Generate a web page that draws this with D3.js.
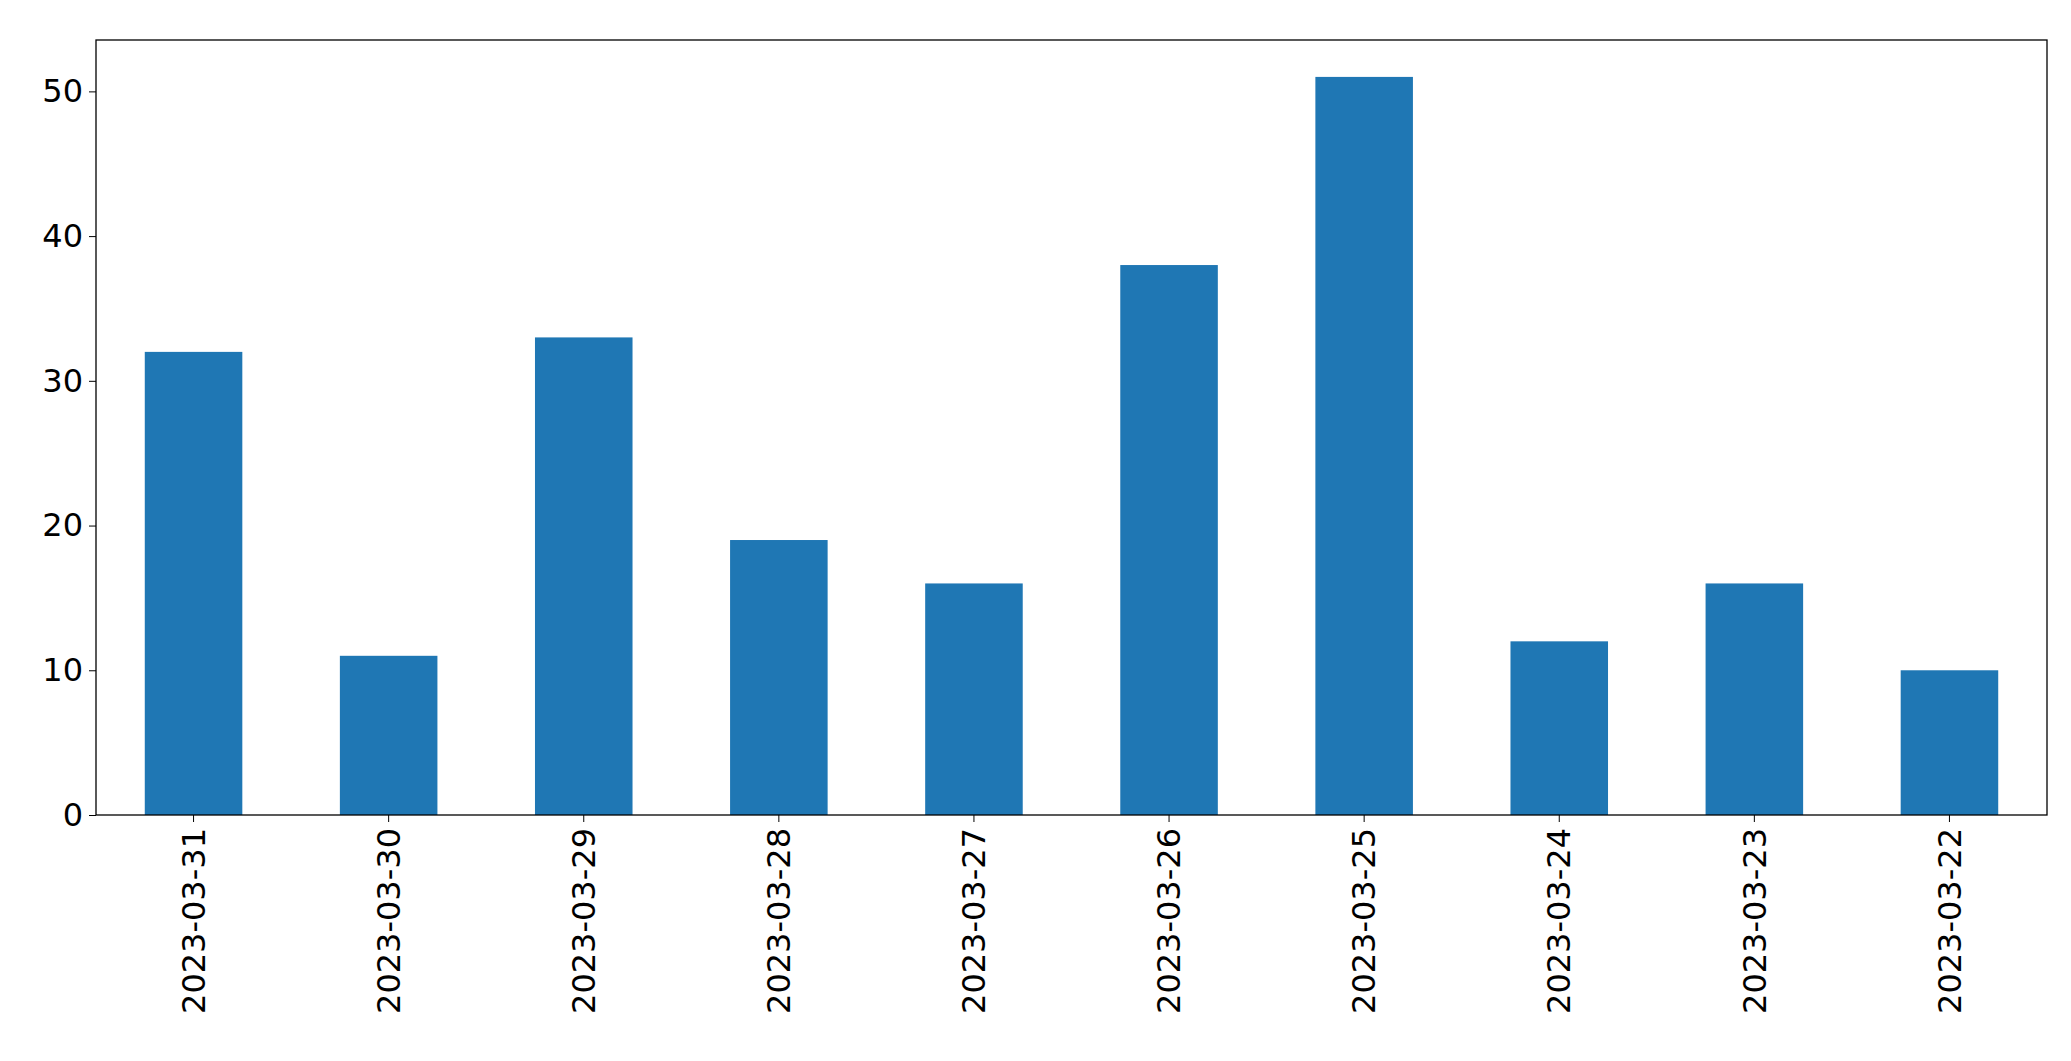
<!DOCTYPE html>
<html>
<head>
<meta charset="utf-8">
<script src="https://cdn.jsdelivr.net/npm/d3@7"></script>
<style>
  body { margin: 0; background: #fff; }
  text { font-family: "DejaVu Sans", sans-serif; }
</style>
</head>
<body>
<div id="chart"></div>
<script>
const dates = ["2023-03-31", "2023-03-30", "2023-03-29", "2023-03-28", "2023-03-27",
  "2023-03-26", "2023-03-25", "2023-03-24", "2023-03-23", "2023-03-22"];
const counts = [32, 11, 33, 19, 16, 38, 51, 12, 16, 10];
const yTicks = [0, 10, 20, 30, 40, 50];

const width = 2071, height = 1061;
const margin = { top: 40, right: 24, bottom: 246, left: 96 };

const svg = d3.select("#chart").append("svg")
  .attr("width", width)
  .attr("height", height);

const x = d3.scaleBand()
  .domain(dates)
  .range([margin.left, width - margin.right])
  .paddingInner(0.5)
  .paddingOuter(0.25);

const y = d3.scaleLinear()
  .domain([0, d3.max(counts) * 1.05])
  .range([height - margin.bottom, margin.top]);

svg.selectAll(".bar")
  .data(dates)
  .enter()
  .append("rect")
  .attr("x", (d) => x(d))
  .attr("y", (d, i) => y(counts[i]))
  .attr("width", x.bandwidth())
  .attr("height", (d, i) => y(0) - y(counts[i]))
  .style("fill", "#1f77b4");

const xAxis = svg.append("g")
  .attr("transform", `translate(0,${height - margin.bottom})`)
  .call(d3.axisBottom(x).tickSize(7).tickPadding(6).tickSizeOuter(0));
xAxis.selectAll("text")
  .style("font-size", "32px")
  .attr("transform", "rotate(-90)")
  .attr("text-anchor", "end")
  .attr("x", -13)
  .attr("y", 0)
  .attr("dy", "0.35em");

const yAxis = svg.append("g")
  .attr("transform", `translate(${margin.left},0)`)
  .call(d3.axisLeft(y).tickValues(yTicks).tickSize(7).tickPadding(6).tickSizeOuter(0));
yAxis.selectAll("text").style("font-size", "32px");

svg.selectAll(".domain").remove();
svg.append("rect")
  .attr("x", margin.left)
  .attr("y", margin.top)
  .attr("width", width - margin.left - margin.right)
  .attr("height", height - margin.top - margin.bottom)
  .style("fill", "none")
  .style("stroke", "#000")
  .style("stroke-width", 1.3);
</script>
</body>
</html>
